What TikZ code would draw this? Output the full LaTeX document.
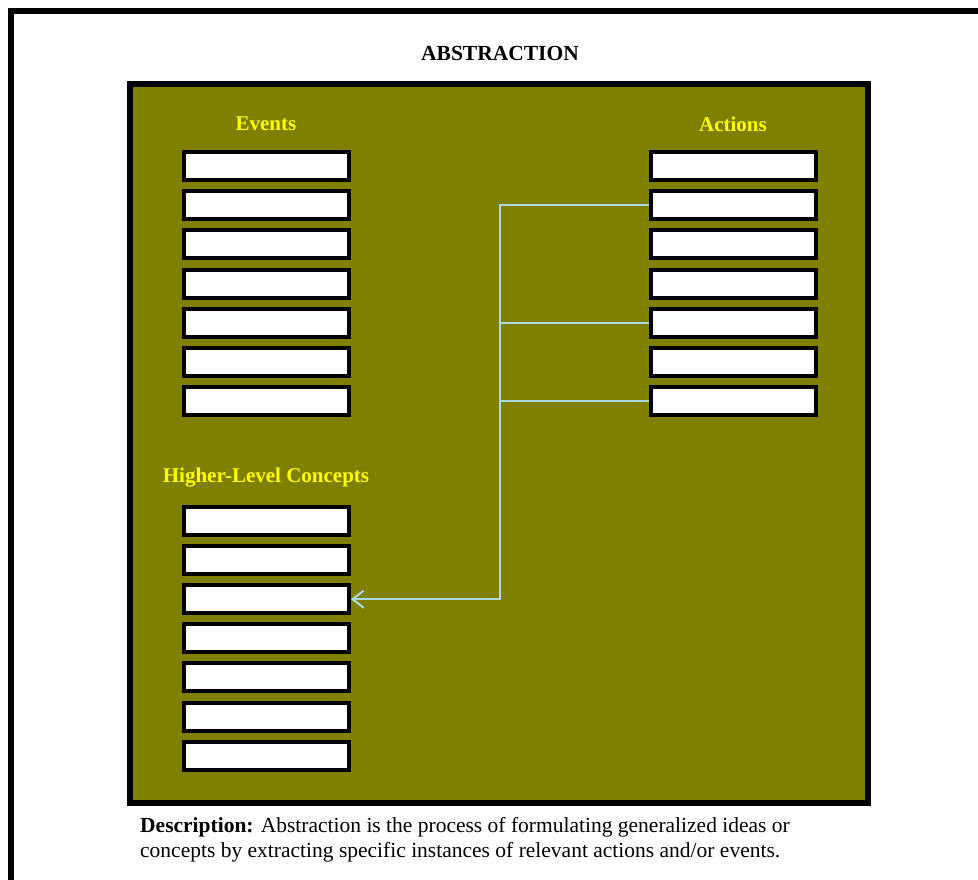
\documentclass[tikz,border=0pt]{standalone}
\usepackage{fontspec}
\setmainfont{Liberation Serif}
\usetikzlibrary{arrows.meta}
\definecolor{panel}{RGB}{128,128,0}
\definecolor{labelyellow}{RGB}{255,255,0}
\definecolor{wirecol}{RGB}{173,216,230}
\tikzset{
  slot/.style={draw=black, fill=white, line width=4pt, minimum width=165pt,
    minimum height=28pt, inner sep=0pt},
  heading/.style={text=labelyellow, font=\fontsize{21}{25}\selectfont\bfseries},
  wire/.style={draw=wirecol, line width=2pt},
  feed/.style={wire, -{Straight Barb[length=11pt,width=17pt,line width=2pt]}},
}
\begin{document}
\begin{tikzpicture}[x=1pt,y=-1pt]
\useasboundingbox (0,0) rectangle (978,879);
\begin{scope}
  \clip (0,0) rectangle (978,879);
  % outer frame, running past the right and bottom edges
  \draw[line width=6pt] (11,1000) -- (11,11) -- (1100,11);
\end{scope}

\node[font=\fontsize{21.5}{25}\selectfont\bfseries] (title) at (500,53) {ABSTRACTION};

% olive panel
\draw[line width=6pt, fill=panel] (130,84) rectangle (868,803);

\node[heading] (evh) at (266,124) {Events};
\node[heading] (ach) at (733,124) {Actions};
\node[heading] (hlh) at (266,478) {Higher-Level Concepts};

\foreach \i in {1,...,7} {
  \node[slot] (e\i) at (266.5,{166+39.2*(\i-1)}) {};
  \node[slot] (a\i) at (733,{166+39.2*(\i-1)}) {};
  \node[slot] (c\i) at (266.5,{521+39.1*(\i-1)}) {};
}

% connectors from selected actions down to a concept
\coordinate (trunk) at (500,0);
\draw[feed] (a2.west) -- (a2.west -| trunk) -- (c3.east -| trunk) -- (c3.east);
\draw[wire] (a5.west) -- (a5.west -| trunk);
\draw[wire] (a7.west) -- (a7.west -| trunk);

% base anchor of a multi-line node sits on its last line
\node[anchor=base west, align=left, inner sep=0pt,
      font=\fontsize{21.5}{25}\selectfont] (desc) at (140,857)
  {\textbf{Description:} Abstraction is the process of formulating generalized ideas or\\
   concepts by extracting specific instances of relevant actions and/or events.};
\end{tikzpicture}
\end{document}
